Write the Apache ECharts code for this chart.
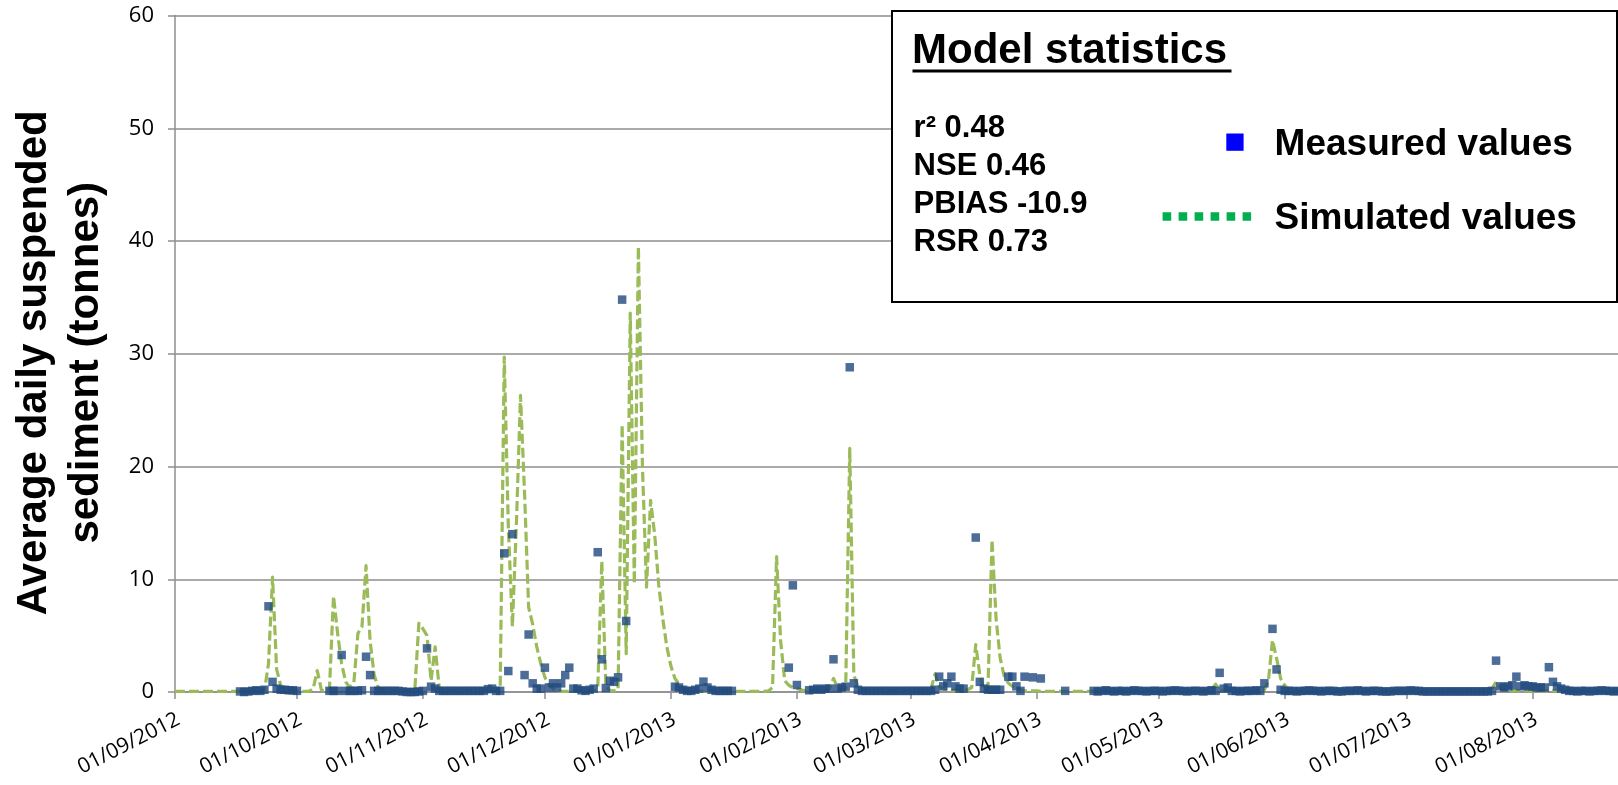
<!DOCTYPE html>
<html>
<head>
<meta charset="utf-8">
<script src="https://cdn.jsdelivr.net/npm/echarts@6/dist/echarts.min.js"></script>
<style>
  html, body { margin: 0; padding: 0; background: #ffffff; }
  #chart { width: 1618px; height: 785px; }
</style>
</head>
<body>
<div id="chart"></div>
<script>
// Daily suspended sediment load, 01/09/2012 onward (tonnes per day).
const startDate = [2012, 9, 1];

// Model output, one value per day, grouped by month.
const simSep2012 = [0.05,0.05,0.05,0.05,0.05,0.05,0.05,0.05,0.05,0.05, 0.05,0.05,0.05,0.05,0.05,0.05,0.05,0.05,0.05,0.05, 0.05,0.05,0.1,2.5,10.2,2.0,0.6,0.3,0.2,0.1];
const simOct2012 = [0.1,0.05,0.05,0.05,0.3,1.9,0.2,0.05,0.3,8.5, 5.2,2.5,0.9,0.4,0.8,5.2,5.8,11.2,4.5,1.5, 0.4,0.2,0.1,0.05,0.05,0.05,0.05,0.05,0.05,0.2, 6.1];
const simNov2012 = [5.6,5.0,1.0,4.0,0.4,0.15,0.1,0.05,0.05,0.05, 0.05,0.05,0.05,0.05,0.05,0.05,0.05,0.05,0.1,0.2, 29.7,14.7,5.8,15.0,26.3,17.6,7.5,6.0,4.0,2.5];
const simDec2012 = [1.3,0.6,0.3,0.15,0.05,0.05,0.05,0.05,0.05,0.05, 0.05,0.05,0.05,0.3,11.6,0.5,0.15,0.1,0.2,23.7, 3.4,33.6,9.6,39.5,20.0,9.3,17.0,14.0,9.5,6.5, 4.0];
const simJan2013 = [2.3,1.2,0.7,0.35,0.15,0.05,0.05,0.05,0.05,0.05, 0.05,0.05,0.05,0.05,0.05,0.05,0.05,0.05,0.05,0.05, 0.05,0.05,0.05,0.05,0.1,0.4,12.0,4.5,1.0,0.6, 0.4];
const simFeb2013 = [0.3,0.2,0.1,0.1,0.1,0.1,0.1,0.1,0.3,1.2, 0.4,0.2,0.3,21.6,1.5,0.5,0.3,0.2,0.1,0.1, 0.1,0.1,0.1,0.1,0.1,0.1,0.1,0.1];
const simMar2013 = [0.1,0.1,0.1,0.1,0.1,0.3,1.6,0.5,0.3,0.2, 0.15,0.15,0.15,0.15,0.2,0.4,4.2,1.5,0.15,0.3, 13.5,6.5,3.0,1.4,0.8,0.5,0.3,0.2,0.1,0.1, 0.1];
const simApr2013 = [0.1,0.05,0.05,0.05,0.05,0.05,0.05,0.05,0.05,0.05, 0.05,0.05,0.05,0.05,0.05,0.05,0.05,0.05,0.05,0.05, 0.05,0.05,0.05,0.05,0.05,0.05,0.05,0.05,0.05,0.05];
const simMay2013 = [0.05,0.05,0.05,0.05,0.05,0.05,0.05,0.05,0.05,0.05, 0.05,0.05,0.05,0.2,0.7,0.2,0.05,0.05,0.05,0.05, 0.05,0.05,0.05,0.05,0.05,0.05,0.2,1.0,4.6,3.0, 1.2];
const simJun2013 = [0.6,0.2,0.05,0.05,0.05,0.05,0.05,0.05,0.05,0.05, 0.05,0.05,0.05,0.05,0.05,0.05,0.05,0.05,0.05,0.05, 0.05,0.05,0.05,0.05,0.05,0.05,0.05,0.05,0.05,0.05];
const simJul2013 = [0.05,0.05,0.05,0.05,0.05,0.05,0.05,0.05,0.05,0.05, 0.05,0.05,0.05,0.05,0.05,0.05,0.05,0.05,0.05,0.05, 0.1,0.3,0.9,0.4,0.2,0.15,0.1,0.15,0.1,0.1, 0.1];
const simAug2013 = [0.1,0.1,0.1,0.1,0.1,0.1,0.1,0.1,0.1,0.1, 0.05,0.05,0.05,0.05,0.05,0.05,0.05,0.05,0.05,0.05, 0.05,0.05];

// Gauged values, one per day (null = no record), grouped by month.
const obsSep2012 = [null,null,null,null,null,null,null,null,null,null, null,null,null,null,null,null,0.05,0.0,0.05,0.1, 0.15,0.1,0.2,7.6,0.9,0.3,0.2,0.2,0.15,0.15];
const obsOct2012 = [0.1,null,null,null,null,null,null,null,0.1,0.1, 0.1,3.28,0.1,0.1,0.1,0.1,0.15,3.13,1.5,0.1, 0.1,0.1,0.1,0.1,0.1,0.1,0.05,0.0,0.0,0.0, 0.05];
const obsNov2012 = [0.1,3.87,0.47,0.3,0.1,0.1,0.1,0.1,0.1,0.1, 0.1,0.1,0.1,0.1,0.1,0.1,0.25,0.3,0.1,0.1, 12.3,1.86,14.0,null,null,1.5,5.1,0.77,0.3,0.3];
const obsDec2012 = [2.16,0.4,0.77,0.4,0.77,1.5,2.16,0.3,0.3,0.15, 0.1,0.2,0.3,12.4,2.9,0.35,1.0,0.9,1.3,34.8, 6.3,null,null,null,null,null,null,null,null,null, null];
const obsJan2013 = [null,0.47,0.4,0.2,0.1,0.1,0.2,0.3,0.92,0.4, 0.2,0.1,0.1,0.1,0.1,0.1,null,null,null,null, null,null,null,null,null,null,null,null,null,2.16, 9.46];
const obsFeb2013 = [0.62,null,null,0.15,0.2,0.3,0.2,0.3,0.3,2.9, 0.3,0.4,0.47,28.8,0.77,0.2,0.1,0.1,0.1,0.1, 0.1,0.1,0.1,0.1,0.1,0.1,0.1,0.1];
const obsMar2013 = [0.1,0.1,0.1,0.1,0.1,0.1,0.2,1.36,0.5,0.77, 1.36,0.5,0.3,0.3,null,null,13.7,0.9,0.3,0.2, 0.2,0.2,0.2,null,1.36,1.36,0.5,0.1,1.36,null, 1.3];
const obsApr2013 = [null,1.2,null,null,null,null,null,0.1,null,null, null,null,null,null,0.1,0.05,0.1,0.15,0.1,0.05, 0.1,0.1,0.05,0.1,0.15,0.1,0.1,0.05,0.1,0.1];
const obsMay2013 = [0.1,0.05,0.1,0.1,0.15,0.1,0.1,0.05,0.1,0.1, 0.1,0.05,0.1,0.15,0.1,1.7,0.3,0.4,0.1,0.1, 0.05,0.1,0.1,0.1,0.15,0.1,0.77,null,5.6,2.0, 0.2];
const obsJun2013 = [0.1,0.1,0.1,0.05,0.1,0.1,0.15,0.1,0.1,0.05, 0.1,0.1,0.1,0.05,0.05,0.1,0.1,0.1,0.15,0.1, 0.05,0.1,0.1,0.1,0.05,0.05,0.05,0.1,0.1,0.1];
const obsJul2013 = [0.1,0.15,0.1,0.1,0.05,0.05,0.05,0.05,0.05,0.05, 0.05,0.05,0.05,0.05,0.05,0.05,0.05,0.05,0.05,0.05, 0.05,0.1,2.78,0.5,0.4,0.5,0.6,1.36,0.5,0.6, 0.5];
const obsAug2013 = [0.5,0.4,0.4,0.4,2.2,0.9,0.5,0.3,0.2,0.1, 0.1,0.05,0.1,0.1,0.05,0.1,0.1,0.15,0.1,0.1, 0.05,0.1];

const monthTickLabels = ['01/09/2012','01/10/2012','01/11/2012','01/12/2012','01/01/2013','01/02/2013',
                         '01/03/2013','01/04/2013','01/05/2013','01/06/2013','01/07/2013','01/08/2013'];
const yTicks = [0, 10, 20, 30, 40, 50, 60];

const statsTitle = 'Model statistics';
const statsLines = ['r\u00B2 0.48', 'NSE 0.46', 'PBIAS -10.9', 'RSR 0.73'];
const seriesNames = ['Measured values', 'Simulated values'];

// ---- build series from the monthly arrays ----
// x is measured in days since the start date
const DAY = 86400000;
const t0 = Date.UTC(startDate[0], startDate[1] - 1, startDate[2]);
const simulated = [].concat(simSep2012, simOct2012, simNov2012, simDec2012, simJan2013, simFeb2013,
                            simMar2013, simApr2013, simMay2013, simJun2013, simJul2013, simAug2013);
const measured = [].concat(obsSep2012, obsOct2012, obsNov2012, obsDec2012, obsJan2013, obsFeb2013,
                           obsMar2013, obsApr2013, obsMay2013, obsJun2013, obsJul2013, obsAug2013);
const simData = simulated.map((v, i) => [i, v]);
const obsData = [];
measured.forEach((v, i) => { if (v !== null) obsData.push([i, v]); });

const tickDays = monthTickLabels.map(s => {
  const p = s.split('/').map(Number);
  return Math.round((Date.UTC(p[2], p[1] - 1, p[0]) - t0) / DAY);
});
const labelFor = v => {
  const k = tickDays.indexOf(Math.round(v));
  return k >= 0 ? monthTickLabels[k] : '';
};

const FONT_AXIS = "'Open Sans', 'Liberation Sans', sans-serif";
const FONT_BOLD = "'Liberation Sans', Arial, sans-serif";
const GRID_GREY = '#8e8e8e';
const BOX_Z = 100;

const chart = echarts.init(document.getElementById('chart'), null, { renderer: 'canvas' });

chart.setOption({
  animation: false,
  backgroundColor: '#ffffff',
  grid: { left: 172, right: 0, top: 15.5, bottom: 93, containLabel: false },
  xAxis: {
    type: 'value',
    min: 0,
    max: simulated.length - 1,
    axisLine: { show: true, onZero: false, lineStyle: { color: GRID_GREY, width: 1.5 } },
    axisTick: { show: true, length: 7, inside: false, customValues: tickDays,
                lineStyle: { color: GRID_GREY, width: 1.5 } },
    axisLabel: { customValues: tickDays, formatter: labelFor, rotate: 27, margin: 28,
                 padding: [0, -4, 0, 0],
                 fontSize: 21, fontFamily: FONT_AXIS, color: '#000' },
    splitLine: { show: false }
  },
  yAxis: {
    type: 'value',
    min: yTicks[0], max: yTicks[yTicks.length - 1], interval: 10,
    name: 'Average daily suspended\nsediment (tonnes)',
    nameLocation: 'middle',
    nameRotate: 90,
    nameGap: 63,
    nameTextStyle: { fontSize: 42, fontWeight: 'bold', fontFamily: FONT_BOLD, color: '#000',
                     lineHeight: 52, padding: [0, 18, 0, 0] },
    axisLine: { show: true, lineStyle: { color: GRID_GREY, width: 1.5 } },
    axisTick: { show: true, length: 7, lineStyle: { color: GRID_GREY, width: 1.5 } },
    axisLabel: { margin: 21, fontSize: 22, fontFamily: FONT_AXIS, color: '#000' },
    splitLine: { show: true, lineStyle: { color: GRID_GREY, width: 1.5 } }
  },
  series: [
    {
      name: seriesNames[1],
      type: 'line',
      data: simData,
      showSymbol: false,
      symbol: 'none',
      z: 2,
      lineStyle: { color: '#9BBB59', width: 3.2, type: [10, 4], cap: 'butt', join: 'round' }
    },
    {
      name: seriesNames[0],
      type: 'scatter',
      data: obsData,
      symbol: 'rect',
      symbolSize: 8.5,
      z: 3,
      itemStyle: { color: '#1F497D' }
    }
  ],
  // statistics panel with its own key
  graphic: [
    { type: 'rect', z: BOX_Z, shape: { x: 892, y: 11, width: 725, height: 291 },
      style: { fill: '#ffffff', stroke: '#000000', lineWidth: 2 } },
    { type: 'text', z: BOX_Z + 1, x: 912, y: 51,
      style: { text: statsTitle, fill: '#000', font: "bold 42px " + FONT_BOLD, verticalAlign: 'middle' } },
    { type: 'rect', z: BOX_Z + 1, shape: { x: 912.5, y: 69.5, width: 319, height: 3 }, style: { fill: '#000' } },
    { type: 'text', z: BOX_Z + 1, x: 913.6, y: 109.5,
      style: { text: statsLines.join('\n'), fill: '#000', font: "bold 31px " + FONT_BOLD,
               lineHeight: 38, verticalAlign: 'top' } },
    { type: 'rect', z: BOX_Z + 1, shape: { x: 1226.3, y: 133.5, width: 17.3, height: 17.3 }, style: { fill: '#0000FF' } },
    { type: 'text', z: BOX_Z + 1, x: 1274.6, y: 145,
      style: { text: seriesNames[0], fill: '#000', font: "bold 37px " + FONT_BOLD, verticalAlign: 'middle' } },
    { type: 'line', z: BOX_Z + 1, shape: { x1: 1162.6, y1: 216.5, x2: 1251.1, y2: 216.5 },
      style: { stroke: '#00B050', lineWidth: 8.5, lineDash: [8.6, 7.4] } },
    { type: 'text', z: BOX_Z + 1, x: 1274.6, y: 218.5,
      style: { text: seriesNames[1], fill: '#000', font: "bold 37px " + FONT_BOLD, verticalAlign: 'middle' } }
  ]
});
</script>
</body>
</html>
